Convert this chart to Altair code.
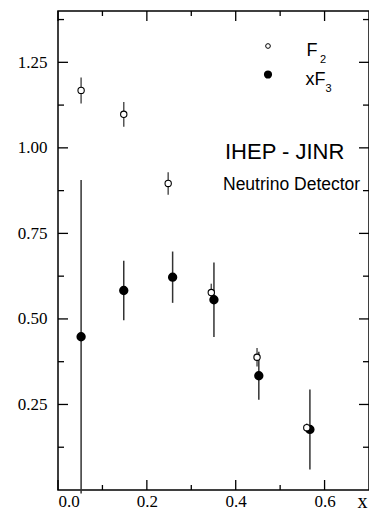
import altair as alt
import pandas as pd

# ---- data ----
x_f2 = [0.052, 0.148, 0.248, 0.345, 0.448, 0.560]
f2 = [1.168, 1.098, 0.896, 0.577, 0.388, 0.182]
f2_err = [0.038, 0.036, 0.033, 0.026, 0.027, 0.012]

x_f3 = [0.052, 0.148, 0.258, 0.351, 0.452, 0.567]
xf3 = [0.448, 0.583, 0.622, 0.556, 0.334, 0.177]
xf3_err = [0.458, 0.087, 0.075, 0.109, 0.070, 0.117]

x_major = [0.0, 0.2, 0.4, 0.6]
x_minor = [0.1, 0.3, 0.5]
y_major = [0.25, 0.5, 0.75, 1.0, 1.25]
y_minor = [0.125, 0.375, 0.625, 0.875, 1.125, 1.375]

W, H = 311, 479
L = 50
SERIF = "Liberation Serif"
SANS = "Liberation Sans"

df_f2 = pd.DataFrame({"x": x_f2, "y": f2,
                      "lo": [v - e for v, e in zip(f2, f2_err)],
                      "hi": [v + e for v, e in zip(f2, f2_err)]})
df_f3 = pd.DataFrame({"x": x_f3, "y": xf3,
                      "lo": [v - e for v, e in zip(xf3, xf3_err)],
                      "hi": [v + e for v, e in zip(xf3, xf3_err)]})

xs = alt.Scale(domain=[0, 0.7], nice=False, zero=False)
ys = alt.Scale(domain=[0, 1.4], nice=False, zero=False)

xaxis = alt.Axis(values=x_major, format=".1f", labelPadding=3, title="x",
                 titleX=W - 7, titleY=17, titleBaseline="alphabetic", titleAlign="center")
yaxis = alt.Axis(values=y_major, format=".2f", labelPadding=11, title=None)

X = lambda f: alt.X(f, scale=xs, axis=xaxis)
Y = lambda f: alt.Y(f, scale=ys, axis=yaxis)

err_f2 = alt.Chart(df_f2).mark_rule(color="#555", strokeWidth=1.5).encode(
    x=X("x:Q"), y=Y("lo:Q"), y2="hi:Q")
err_f3 = alt.Chart(df_f3).mark_rule(color="#333", strokeWidth=1.5).encode(
    x=X("x:Q"), y=Y("lo:Q"), y2="hi:Q")
pts_f3 = alt.Chart(df_f3).mark_point(shape="circle", filled=True, fill="black",
                                     stroke="black", size=54, opacity=1).encode(
    x=X("x:Q"), y=Y("y:Q"))
pts_f2 = alt.Chart(df_f2).mark_point(shape="circle", fill="white", stroke="black",
                                     strokeWidth=1.1, size=40, opacity=1).encode(
    x=X("x:Q"), y=Y("y:Q"))

# ---- inward frame ticks ----
def vticks(vals, y0, y1):
    return alt.Chart(pd.DataFrame({"v": vals})).mark_rule(color="black", strokeWidth=1.3).encode(
        x=X("v:Q"), y=alt.value(y0), y2=alt.value(y1))

def hticks(vals, x0, x1):
    return alt.Chart(pd.DataFrame({"v": vals})).mark_rule(color="black", strokeWidth=1.3).encode(
        y=Y("v:Q"), x=alt.value(x0), x2=alt.value(x1))

ticks = [
    vticks(x_major, H, H - 10), vticks(x_minor, H, H - 5),
    vticks(x_major, 0, 10), vticks(x_minor, 0, 5),
    hticks(y_major, 0, 10), hticks(y_minor, 0, 6),
    hticks(y_major, W, W - 10), hticks(y_minor, W, W - 6),
]

# ---- legend and annotations ----
leg_open = alt.Chart(pd.DataFrame({"k": ["F2"]})).mark_point(
    shape="circle", fill="white", stroke="black", strokeWidth=1, size=22, opacity=1).encode(
    x=alt.value(210), y=alt.value(35))
leg_fill = alt.Chart(pd.DataFrame({"k": ["xF3"]})).mark_point(
    shape="circle", filled=True, fill="black", stroke="black", size=38, opacity=1).encode(
    x=alt.value(210), y=alt.value(63.5))

def txt(s, x, y, size):
    return alt.Chart(pd.DataFrame({"t": [s]})).mark_text(
        align="left", baseline="alphabetic", font=SANS, fontSize=size, color="black").encode(
        text="t:N", x=alt.value(x), y=alt.value(y))

texts = [
    txt("F", 248.5, 45, 18), txt("2", 262, 52, 11),
    txt("xF", 247.5, 74, 18), txt("3", 267.5, 81, 11),
    txt("IHEP - JINR", 167, 147.5, 22),
    txt("Neutrino Detector", 165, 178.5, 17.5),
]

chart = alt.layer(err_f2, err_f3, pts_f3, pts_f2, *ticks, leg_open, leg_fill, *texts).properties(
    width=W, height=H,
    padding={"left": L, "top": 3, "right": 0, "bottom": 23},
    autosize=alt.AutoSizeParams(type="none"),
    background="white",
).configure_view(
    stroke="black", strokeWidth=1.5
).configure_axis(
    labelFont=SERIF, labelFontSize=17, labelColor="black", ticks=False, domain=False,
    grid=False, titleFont=SERIF, titleFontSize=20, titleFontWeight="normal", titleColor="black",
)

chart.save("out.html", embed_options={"renderer": "svg", "actions": False})
